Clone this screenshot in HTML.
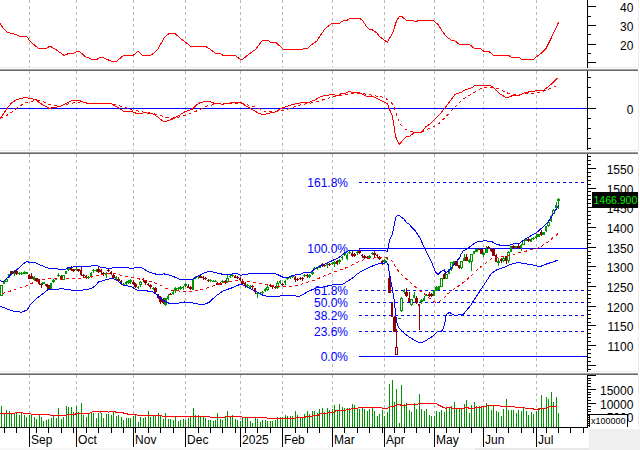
<!DOCTYPE html><html><head><meta charset="utf-8"><style>html,body{margin:0;padding:0;background:#fff}svg{display:block}</style></head><body><svg width="640" height="450" viewBox="0 0 640 450" shape-rendering="crispEdges" style="display:block;font-family:'Liberation Sans',sans-serif">
<rect x="0" y="0" width="640" height="450" fill="#fff"/>
<rect x="589" y="429" width="51" height="21" fill="#f0f0f0"/>
<rect x="0" y="448" width="475" height="2" fill="#f6f6f6"/>
<rect x="475" y="448" width="114" height="2" fill="#e8e8e8"/>
<line x1="29.5" y1="0" x2="29.5" y2="67" stroke="#b8b8b8" stroke-width="1" stroke-dasharray="3 3"/>
<line x1="76.5" y1="0" x2="76.5" y2="67" stroke="#b8b8b8" stroke-width="1" stroke-dasharray="3 3"/>
<line x1="133.5" y1="0" x2="133.5" y2="67" stroke="#b8b8b8" stroke-width="1" stroke-dasharray="3 3"/>
<line x1="185.5" y1="0" x2="185.5" y2="67" stroke="#b8b8b8" stroke-width="1" stroke-dasharray="3 3"/>
<line x1="240.5" y1="0" x2="240.5" y2="67" stroke="#b8b8b8" stroke-width="1" stroke-dasharray="3 3"/>
<line x1="282.5" y1="0" x2="282.5" y2="67" stroke="#b8b8b8" stroke-width="1" stroke-dasharray="3 3"/>
<line x1="332.5" y1="0" x2="332.5" y2="67" stroke="#b8b8b8" stroke-width="1" stroke-dasharray="3 3"/>
<line x1="384.5" y1="0" x2="384.5" y2="67" stroke="#b8b8b8" stroke-width="1" stroke-dasharray="3 3"/>
<line x1="434.5" y1="0" x2="434.5" y2="67" stroke="#b8b8b8" stroke-width="1" stroke-dasharray="3 3"/>
<line x1="483.5" y1="0" x2="483.5" y2="67" stroke="#b8b8b8" stroke-width="1" stroke-dasharray="3 3"/>
<line x1="536.5" y1="0" x2="536.5" y2="67" stroke="#b8b8b8" stroke-width="1" stroke-dasharray="3 3"/>
<line x1="29.5" y1="71" x2="29.5" y2="150" stroke="#b8b8b8" stroke-width="1" stroke-dasharray="3 3"/>
<line x1="76.5" y1="71" x2="76.5" y2="150" stroke="#b8b8b8" stroke-width="1" stroke-dasharray="3 3"/>
<line x1="133.5" y1="71" x2="133.5" y2="150" stroke="#b8b8b8" stroke-width="1" stroke-dasharray="3 3"/>
<line x1="185.5" y1="71" x2="185.5" y2="150" stroke="#b8b8b8" stroke-width="1" stroke-dasharray="3 3"/>
<line x1="240.5" y1="71" x2="240.5" y2="150" stroke="#b8b8b8" stroke-width="1" stroke-dasharray="3 3"/>
<line x1="282.5" y1="71" x2="282.5" y2="150" stroke="#b8b8b8" stroke-width="1" stroke-dasharray="3 3"/>
<line x1="332.5" y1="71" x2="332.5" y2="150" stroke="#b8b8b8" stroke-width="1" stroke-dasharray="3 3"/>
<line x1="384.5" y1="71" x2="384.5" y2="150" stroke="#b8b8b8" stroke-width="1" stroke-dasharray="3 3"/>
<line x1="434.5" y1="71" x2="434.5" y2="150" stroke="#b8b8b8" stroke-width="1" stroke-dasharray="3 3"/>
<line x1="483.5" y1="71" x2="483.5" y2="150" stroke="#b8b8b8" stroke-width="1" stroke-dasharray="3 3"/>
<line x1="536.5" y1="71" x2="536.5" y2="150" stroke="#b8b8b8" stroke-width="1" stroke-dasharray="3 3"/>
<line x1="29.5" y1="154" x2="29.5" y2="371" stroke="#b8b8b8" stroke-width="1" stroke-dasharray="3 3"/>
<line x1="76.5" y1="154" x2="76.5" y2="371" stroke="#b8b8b8" stroke-width="1" stroke-dasharray="3 3"/>
<line x1="133.5" y1="154" x2="133.5" y2="371" stroke="#b8b8b8" stroke-width="1" stroke-dasharray="3 3"/>
<line x1="185.5" y1="154" x2="185.5" y2="371" stroke="#b8b8b8" stroke-width="1" stroke-dasharray="3 3"/>
<line x1="240.5" y1="154" x2="240.5" y2="371" stroke="#b8b8b8" stroke-width="1" stroke-dasharray="3 3"/>
<line x1="282.5" y1="154" x2="282.5" y2="371" stroke="#b8b8b8" stroke-width="1" stroke-dasharray="3 3"/>
<line x1="332.5" y1="154" x2="332.5" y2="371" stroke="#b8b8b8" stroke-width="1" stroke-dasharray="3 3"/>
<line x1="384.5" y1="154" x2="384.5" y2="371" stroke="#b8b8b8" stroke-width="1" stroke-dasharray="3 3"/>
<line x1="434.5" y1="154" x2="434.5" y2="371" stroke="#b8b8b8" stroke-width="1" stroke-dasharray="3 3"/>
<line x1="483.5" y1="154" x2="483.5" y2="371" stroke="#b8b8b8" stroke-width="1" stroke-dasharray="3 3"/>
<line x1="536.5" y1="154" x2="536.5" y2="371" stroke="#b8b8b8" stroke-width="1" stroke-dasharray="3 3"/>
<line x1="29.5" y1="375" x2="29.5" y2="427" stroke="#b8b8b8" stroke-width="1" stroke-dasharray="3 3"/>
<line x1="76.5" y1="375" x2="76.5" y2="427" stroke="#b8b8b8" stroke-width="1" stroke-dasharray="3 3"/>
<line x1="133.5" y1="375" x2="133.5" y2="427" stroke="#b8b8b8" stroke-width="1" stroke-dasharray="3 3"/>
<line x1="185.5" y1="375" x2="185.5" y2="427" stroke="#b8b8b8" stroke-width="1" stroke-dasharray="3 3"/>
<line x1="240.5" y1="375" x2="240.5" y2="427" stroke="#b8b8b8" stroke-width="1" stroke-dasharray="3 3"/>
<line x1="282.5" y1="375" x2="282.5" y2="427" stroke="#b8b8b8" stroke-width="1" stroke-dasharray="3 3"/>
<line x1="332.5" y1="375" x2="332.5" y2="427" stroke="#b8b8b8" stroke-width="1" stroke-dasharray="3 3"/>
<line x1="384.5" y1="375" x2="384.5" y2="427" stroke="#b8b8b8" stroke-width="1" stroke-dasharray="3 3"/>
<line x1="434.5" y1="375" x2="434.5" y2="427" stroke="#b8b8b8" stroke-width="1" stroke-dasharray="3 3"/>
<line x1="483.5" y1="375" x2="483.5" y2="427" stroke="#b8b8b8" stroke-width="1" stroke-dasharray="3 3"/>
<line x1="536.5" y1="375" x2="536.5" y2="427" stroke="#b8b8b8" stroke-width="1" stroke-dasharray="3 3"/>
<rect x="0" y="67" width="639" height="1" fill="#ececec"/>
<rect x="0" y="69" width="638" height="1" fill="#a0a0a0"/>
<rect x="0" y="70" width="638" height="1" fill="#696969"/>
<rect x="0" y="150" width="639" height="1" fill="#ececec"/>
<rect x="0" y="152" width="638" height="1" fill="#a0a0a0"/>
<rect x="0" y="153" width="638" height="1" fill="#696969"/>
<rect x="0" y="371" width="639" height="1" fill="#ececec"/>
<rect x="0" y="373" width="638" height="1" fill="#a0a0a0"/>
<rect x="0" y="374" width="638" height="1" fill="#696969"/>
<rect x="638" y="0" width="1" height="68" fill="#ececec"/>
<rect x="638" y="71" width="1" height="80" fill="#ececec"/>
<rect x="638" y="154" width="1" height="218" fill="#ececec"/>
<rect x="638" y="375" width="1" height="53" fill="#ececec"/>
<rect x="587" y="0" width="1" height="68" fill="#000"/>
<rect x="587" y="71" width="1" height="79" fill="#000"/>
<rect x="587" y="154" width="1" height="218" fill="#000"/>
<rect x="587" y="376" width="1" height="52" fill="#000"/>
<rect x="587" y="6" width="9" height="1" fill="#000"/>
<text x="633.4" y="11.5" font-size="12" text-anchor="end" fill="#000">40</text>
<rect x="587" y="16" width="4" height="1" fill="#000"/>
<rect x="587" y="25" width="9" height="1" fill="#000"/>
<text x="633.4" y="30.5" font-size="12" text-anchor="end" fill="#000">30</text>
<rect x="587" y="34" width="4" height="1" fill="#000"/>
<rect x="587" y="44" width="9" height="1" fill="#000"/>
<text x="633.4" y="49.5" font-size="12" text-anchor="end" fill="#000">20</text>
<rect x="587" y="53" width="4" height="1" fill="#000"/>
<rect x="587" y="62" width="9" height="1" fill="#000"/>
<rect x="587" y="77" width="4" height="1" fill="#000"/>
<rect x="587" y="87" width="4" height="1" fill="#000"/>
<rect x="587" y="97" width="4" height="1" fill="#000"/>
<rect x="587" y="108" width="9" height="1" fill="#000"/>
<rect x="587" y="118" width="4" height="1" fill="#000"/>
<rect x="587" y="128" width="4" height="1" fill="#000"/>
<rect x="587" y="138" width="4" height="1" fill="#000"/>
<rect x="587" y="148" width="4" height="1" fill="#000"/>
<text x="633.4" y="113.5" font-size="12" text-anchor="end" fill="#000">0</text>
<rect x="587" y="369" width="4" height="1" fill="#000"/>
<rect x="587" y="365" width="9" height="1" fill="#000"/>
<rect x="587" y="361" width="4" height="1" fill="#000"/>
<rect x="587" y="357" width="4" height="1" fill="#000"/>
<rect x="587" y="353" width="4" height="1" fill="#000"/>
<rect x="587" y="349" width="4" height="1" fill="#000"/>
<rect x="587" y="345" width="9" height="1" fill="#000"/>
<text x="633.4" y="350.5" font-size="12" text-anchor="end" fill="#000">1100</text>
<rect x="587" y="341" width="4" height="1" fill="#000"/>
<rect x="587" y="337" width="4" height="1" fill="#000"/>
<rect x="587" y="333" width="4" height="1" fill="#000"/>
<rect x="587" y="329" width="4" height="1" fill="#000"/>
<rect x="587" y="325" width="9" height="1" fill="#000"/>
<text x="633.4" y="330.5" font-size="12" text-anchor="end" fill="#000">1150</text>
<rect x="587" y="322" width="4" height="1" fill="#000"/>
<rect x="587" y="318" width="4" height="1" fill="#000"/>
<rect x="587" y="314" width="4" height="1" fill="#000"/>
<rect x="587" y="310" width="4" height="1" fill="#000"/>
<rect x="587" y="306" width="9" height="1" fill="#000"/>
<text x="633.4" y="311.5" font-size="12" text-anchor="end" fill="#000">1200</text>
<rect x="587" y="302" width="4" height="1" fill="#000"/>
<rect x="587" y="298" width="4" height="1" fill="#000"/>
<rect x="587" y="294" width="4" height="1" fill="#000"/>
<rect x="587" y="290" width="4" height="1" fill="#000"/>
<rect x="587" y="286" width="9" height="1" fill="#000"/>
<text x="633.4" y="291.5" font-size="12" text-anchor="end" fill="#000">1250</text>
<rect x="587" y="282" width="4" height="1" fill="#000"/>
<rect x="587" y="278" width="4" height="1" fill="#000"/>
<rect x="587" y="274" width="4" height="1" fill="#000"/>
<rect x="587" y="270" width="4" height="1" fill="#000"/>
<rect x="587" y="266" width="9" height="1" fill="#000"/>
<text x="633.4" y="271.5" font-size="12" text-anchor="end" fill="#000">1300</text>
<rect x="587" y="262" width="4" height="1" fill="#000"/>
<rect x="587" y="258" width="4" height="1" fill="#000"/>
<rect x="587" y="255" width="4" height="1" fill="#000"/>
<rect x="587" y="251" width="4" height="1" fill="#000"/>
<rect x="587" y="247" width="9" height="1" fill="#000"/>
<text x="633.4" y="252.5" font-size="12" text-anchor="end" fill="#000">1350</text>
<rect x="587" y="243" width="4" height="1" fill="#000"/>
<rect x="587" y="239" width="4" height="1" fill="#000"/>
<rect x="587" y="235" width="4" height="1" fill="#000"/>
<rect x="587" y="231" width="4" height="1" fill="#000"/>
<rect x="587" y="227" width="9" height="1" fill="#000"/>
<text x="633.4" y="232.5" font-size="12" text-anchor="end" fill="#000">1400</text>
<rect x="587" y="223" width="4" height="1" fill="#000"/>
<rect x="587" y="219" width="4" height="1" fill="#000"/>
<rect x="587" y="215" width="4" height="1" fill="#000"/>
<rect x="587" y="211" width="4" height="1" fill="#000"/>
<rect x="587" y="207" width="9" height="1" fill="#000"/>
<text x="633.4" y="212.5" font-size="12" text-anchor="end" fill="#000">1450</text>
<rect x="587" y="203" width="4" height="1" fill="#000"/>
<rect x="587" y="199" width="4" height="1" fill="#000"/>
<rect x="587" y="195" width="4" height="1" fill="#000"/>
<rect x="587" y="191" width="4" height="1" fill="#000"/>
<rect x="587" y="188" width="9" height="1" fill="#000"/>
<text x="633.4" y="193.5" font-size="12" text-anchor="end" fill="#000">1500</text>
<rect x="587" y="184" width="4" height="1" fill="#000"/>
<rect x="587" y="180" width="4" height="1" fill="#000"/>
<rect x="587" y="176" width="4" height="1" fill="#000"/>
<rect x="587" y="172" width="4" height="1" fill="#000"/>
<rect x="587" y="168" width="9" height="1" fill="#000"/>
<text x="633.4" y="173.5" font-size="12" text-anchor="end" fill="#000">1550</text>
<rect x="587" y="164" width="4" height="1" fill="#000"/>
<rect x="587" y="160" width="4" height="1" fill="#000"/>
<rect x="587" y="156" width="4" height="1" fill="#000"/>
<rect x="587" y="425" width="4" height="1" fill="#000"/>
<rect x="587" y="423" width="4" height="1" fill="#000"/>
<rect x="587" y="420" width="4" height="1" fill="#000"/>
<rect x="587" y="417" width="9" height="1" fill="#000"/>
<text x="633.4" y="421.75" font-size="12" text-anchor="end" fill="#000">5000</text>
<rect x="587" y="414" width="4" height="1" fill="#000"/>
<rect x="587" y="411" width="4" height="1" fill="#000"/>
<rect x="587" y="409" width="4" height="1" fill="#000"/>
<rect x="587" y="406" width="4" height="1" fill="#000"/>
<rect x="587" y="403" width="9" height="1" fill="#000"/>
<text x="633.4" y="408.5" font-size="12" text-anchor="end" fill="#000">10000</text>
<rect x="587" y="400" width="4" height="1" fill="#000"/>
<rect x="587" y="397" width="4" height="1" fill="#000"/>
<rect x="587" y="394" width="4" height="1" fill="#000"/>
<rect x="587" y="392" width="4" height="1" fill="#000"/>
<rect x="587" y="389" width="9" height="1" fill="#000"/>
<text x="633.4" y="394.5" font-size="12" text-anchor="end" fill="#000">15000</text>
<rect x="587" y="386" width="4" height="1" fill="#000"/>
<rect x="587" y="383" width="4" height="1" fill="#000"/>
<rect x="587" y="380" width="4" height="1" fill="#000"/>
<rect x="587" y="378" width="4" height="1" fill="#000"/>
<rect x="587" y="375" width="9" height="1" fill="#000"/>
<rect x="588" y="414" width="40" height="14" fill="#fff"/>
<rect x="588" y="414" width="40" height="1" fill="#000"/>
<rect x="627" y="414" width="1" height="13" fill="#000"/>
<rect x="589" y="415" width="1" height="12" fill="#000"/>
<text x="591" y="424" font-size="9" fill="#000">x100000</text>
<rect x="588" y="415" width="1" height="1" fill="#000"/>
<rect x="588" y="417" width="1" height="1" fill="#000"/>
<rect x="588" y="419" width="1" height="1" fill="#000"/>
<rect x="588" y="421" width="1" height="1" fill="#000"/>
<rect x="588" y="423" width="1" height="1" fill="#000"/>
<rect x="588" y="425" width="1" height="1" fill="#000"/>
<rect x="592" y="192" width="46" height="16" fill="#000"/>
<text x="637.3" y="204" font-size="10.5" text-anchor="end" fill="#00f000">1466.900</text>
<rect x="0" y="427" width="588" height="1" fill="#000"/>
<rect x="29" y="427" width="1" height="20" fill="#000"/>
<text x="31.1" y="444" font-size="12" fill="#000">Sep</text>
<rect x="76" y="427" width="1" height="20" fill="#000"/>
<text x="78.1" y="444" font-size="12" fill="#000">Oct</text>
<rect x="133" y="427" width="1" height="20" fill="#000"/>
<text x="135.1" y="444" font-size="12" fill="#000">Nov</text>
<rect x="185" y="427" width="1" height="20" fill="#000"/>
<text x="187.1" y="444" font-size="12" fill="#000">Dec</text>
<rect x="240" y="427" width="1" height="20" fill="#000"/>
<text x="242.1" y="444" font-size="12" fill="#000">2025</text>
<rect x="282" y="427" width="1" height="20" fill="#000"/>
<text x="284.1" y="444" font-size="12" fill="#000">Feb</text>
<rect x="332" y="427" width="1" height="20" fill="#000"/>
<text x="334.1" y="444" font-size="12" fill="#000">Mar</text>
<rect x="384" y="427" width="1" height="20" fill="#000"/>
<text x="386.1" y="444" font-size="12" fill="#000">Apr</text>
<rect x="434" y="427" width="1" height="20" fill="#000"/>
<text x="436.1" y="444" font-size="12" fill="#000">May</text>
<rect x="483" y="427" width="1" height="20" fill="#000"/>
<text x="485.1" y="444" font-size="12" fill="#000">Jun</text>
<rect x="536" y="427" width="1" height="20" fill="#000"/>
<text x="538.1" y="444" font-size="12" fill="#000">Jul</text>
<rect x="4" y="427" width="1" height="6" fill="#000"/>
<rect x="16" y="427" width="1" height="6" fill="#000"/>
<rect x="36" y="427" width="1" height="6" fill="#000"/>
<rect x="48" y="427" width="1" height="6" fill="#000"/>
<rect x="61" y="427" width="1" height="6" fill="#000"/>
<rect x="73" y="427" width="1" height="6" fill="#000"/>
<rect x="86" y="427" width="1" height="6" fill="#000"/>
<rect x="98" y="427" width="1" height="6" fill="#000"/>
<rect x="111" y="427" width="1" height="6" fill="#000"/>
<rect x="123" y="427" width="1" height="6" fill="#000"/>
<rect x="135" y="427" width="1" height="6" fill="#000"/>
<rect x="148" y="427" width="1" height="6" fill="#000"/>
<rect x="160" y="427" width="1" height="6" fill="#000"/>
<rect x="173" y="427" width="1" height="6" fill="#000"/>
<rect x="185" y="427" width="1" height="6" fill="#000"/>
<rect x="198" y="427" width="1" height="6" fill="#000"/>
<rect x="210" y="427" width="1" height="6" fill="#000"/>
<rect x="222" y="427" width="1" height="6" fill="#000"/>
<rect x="235" y="427" width="1" height="6" fill="#000"/>
<rect x="245" y="427" width="1" height="6" fill="#000"/>
<rect x="257" y="427" width="1" height="6" fill="#000"/>
<rect x="270" y="427" width="1" height="6" fill="#000"/>
<rect x="295" y="427" width="1" height="6" fill="#000"/>
<rect x="307" y="427" width="1" height="6" fill="#000"/>
<rect x="319" y="427" width="1" height="6" fill="#000"/>
<rect x="332" y="427" width="1" height="6" fill="#000"/>
<rect x="344" y="427" width="1" height="6" fill="#000"/>
<rect x="357" y="427" width="1" height="6" fill="#000"/>
<rect x="369" y="427" width="1" height="6" fill="#000"/>
<rect x="382" y="427" width="1" height="6" fill="#000"/>
<rect x="394" y="427" width="1" height="6" fill="#000"/>
<rect x="404" y="427" width="1" height="6" fill="#000"/>
<rect x="416" y="427" width="1" height="6" fill="#000"/>
<rect x="429" y="427" width="1" height="6" fill="#000"/>
<rect x="446" y="427" width="1" height="6" fill="#000"/>
<rect x="459" y="427" width="1" height="6" fill="#000"/>
<rect x="471" y="427" width="1" height="6" fill="#000"/>
<rect x="483" y="427" width="1" height="6" fill="#000"/>
<rect x="496" y="427" width="1" height="6" fill="#000"/>
<rect x="508" y="427" width="1" height="6" fill="#000"/>
<rect x="521" y="427" width="1" height="6" fill="#000"/>
<rect x="533" y="427" width="1" height="6" fill="#000"/>
<rect x="546" y="427" width="1" height="6" fill="#000"/>
<rect x="558" y="427" width="1" height="6" fill="#000"/>
<rect x="570" y="427" width="1" height="6" fill="#000"/>
<rect x="583" y="427" width="1" height="6" fill="#000"/>
<line x1="359" y1="182.5" x2="587" y2="182.5" stroke="#0000ff" stroke-width="1" stroke-dasharray="3 3"/>
<text x="348" y="186.5" font-size="12" text-anchor="end" fill="#0000ff">161.8%</text>
<rect x="359" y="248" width="228" height="1" fill="#0000ff"/>
<text x="348" y="252.5" font-size="12" text-anchor="end" fill="#0000ff">100.0%</text>
<line x1="359" y1="290.5" x2="587" y2="290.5" stroke="#0000ff" stroke-width="1" stroke-dasharray="3 3"/>
<text x="348" y="294.5" font-size="12" text-anchor="end" fill="#0000ff">61.8%</text>
<line x1="359" y1="302.5" x2="587" y2="302.5" stroke="#0000ff" stroke-width="1" stroke-dasharray="3 3"/>
<text x="348" y="306.5" font-size="12" text-anchor="end" fill="#0000ff">50.0%</text>
<line x1="359" y1="315.5" x2="587" y2="315.5" stroke="#0000ff" stroke-width="1" stroke-dasharray="3 3"/>
<text x="348" y="319.5" font-size="12" text-anchor="end" fill="#0000ff">38.2%</text>
<line x1="359" y1="331.5" x2="587" y2="331.5" stroke="#0000ff" stroke-width="1" stroke-dasharray="3 3"/>
<text x="348" y="335.5" font-size="12" text-anchor="end" fill="#0000ff">23.6%</text>
<rect x="359" y="356" width="228" height="1" fill="#0000ff"/>
<text x="348" y="360.5" font-size="12" text-anchor="end" fill="#0000ff">0.0%</text>
<polyline points="0.0,23.4 3.1,28.1 7.8,32.5 15.6,34.4 19.5,36.2 26.6,36.2 29.7,40.9 38.3,48.4 46.1,48.4 50.0,46.1 56.2,49.7 64.1,55.5 68.8,53.4 73.4,53.4 77.3,51.2 80.5,52.3 85.2,56.6 92.2,59.4 96.9,59.4 100.0,57.0 103.1,57.5 107.0,59.4 111.7,61.4 116.4,61.4 123.4,55.5 133.1,55.5 138.0,51.2 142.5,55.2 150.8,55.2 153.9,53.1 157.8,49.2 164.8,37.0 169.5,33.3 174.7,33.3 181.2,39.1 185.2,41.9 190.6,46.4 200.0,46.4 205.5,46.4 209.4,48.8 215.6,53.4 220.3,53.4 223.0,55.3 235.2,55.3 240.3,59.4 243.0,59.1 248.4,54.4 255.5,49.5 262.5,40.3 267.5,40.3 270.6,42.2 275.5,42.2 283.6,49.4 300.0,49.4 302.3,49.4 303.9,48.4 307.5,48.4 310.9,45.3 316.9,40.9 320.3,35.6 325.0,28.9 331.2,23.8 339.1,23.4 343.8,20.3 346.9,20.3 350.0,18.4 359.4,18.4 362.5,20.3 366.4,26.6 369.5,29.2 372.2,29.7 376.6,32.8 379.7,36.7 384.4,40.3 387.2,42.2 390.6,36.7 393.4,31.2 395.6,23.4 397.7,18.8 400.0,16.1 402.3,16.9 406.2,20.3 412.5,20.3 414.1,21.2 417.2,21.2 418.8,20.3 432.8,20.3 438.3,24.7 442.2,31.2 446.6,36.9 451.6,40.3 454.7,40.6 459.4,44.4 469.5,44.4 474.2,48.4 480.5,48.4 483.6,51.2 489.1,51.6 493.8,55.5 500.0,55.5 508.6,55.5 511.7,57.3 518.8,57.3 521.6,59.4 533.6,59.4 536.7,56.6 541.4,53.1 546.1,48.4 550.0,40.6 554.7,30.5 558.6,22.3" fill="none" stroke="#ff0000" stroke-width="1" />
<rect x="0" y="108" width="587" height="1" fill="#0000ff"/>
<polyline points="0.0,118.3 2.3,115.5 7.0,108.5 11.7,102.7 15.6,100.3 21.1,98.3 26.6,97.5 31.2,98.8 35.9,99.4 39.1,102.7 45.3,106.1 49.2,108.5 52.3,107.7 59.4,106.6 65.6,103.8 72.7,100.3 78.9,100.3 84.4,102.5 89.1,104.1 92.2,103.0 100.0,103.0 103.1,103.8 106.2,103.0 110.2,103.0 114.8,105.8 119.5,108.5 123.4,111.1 131.2,111.1 137.5,113.9 145.3,112.7 153.1,113.9 157.8,117.1 163.3,121.3 166.4,121.3 171.9,119.4 178.1,116.0 185.2,111.6 192.2,109.2 196.1,105.3 200.0,102.7 203.1,101.9 210.9,101.9 214.1,103.3 218.8,103.3 221.9,104.2 226.6,103.8 232.8,102.2 241.4,103.0 246.9,106.6 253.1,110.0 259.4,113.6 263.3,114.7 268.8,113.2 275.0,112.1 281.2,108.5 287.5,106.1 293.8,104.2 300.0,103.0 309.4,102.2 315.6,99.6 321.1,96.4 327.3,95.2 333.6,94.4 336.7,96.0 341.4,93.6 345.3,93.2 349.2,91.6 353.9,92.8 358.6,92.5 362.5,94.1 366.4,96.3 372.7,96.3 379.7,99.9 380.0,100.3 384.7,102.2 387.8,104.2 389.4,109.2 392.5,116.3 395.6,136.6 399.2,144.4 402.7,140.5 406.6,136.6 409.7,136.1 414.4,132.4 421.4,132.4 426.1,126.4 430.0,124.1 434.7,119.4 440.2,113.9 445.6,106.9 450.3,100.7 455.0,94.4 461.2,92.4 465.9,89.2 469.8,88.9 475.3,85.3 480.0,85.3 489.5,85.3 493.4,87.6 499.7,93.9 505.2,97.0 509.1,97.0 513.0,95.4 520.0,95.1 524.7,92.8 530.9,91.5 537.2,90.8 543.4,90.4 548.1,86.8 552.8,82.9 557.5,77.8" fill="none" stroke="#ff0000" stroke-width="1" />
<polyline points="0.0,118.6 7.0,115.5 13.3,110.8 19.5,106.1 25.8,102.5 31.2,101.4 37.5,100.3 43.8,101.8 49.2,104.6 55.5,105.8 60.9,106.1 67.2,104.2 73.4,103.0 80.5,101.9 85.9,102.5 90.6,103.5 100.0,103.3 106.2,103.0 114.8,104.2 121.1,106.4 127.3,108.0 133.6,110.5 139.1,111.1 145.3,112.4 151.6,113.2 157.0,114.4 163.3,116.3 169.5,118.3 175.8,117.8 181.2,116.6 186.7,114.7 193.0,112.4 199.2,110.0 205.5,106.4 210.9,105.3 216.4,103.8 221.9,103.5 231.2,103.0 240.6,103.0 246.9,104.6 253.1,106.4 259.4,108.9 264.8,111.3 271.1,111.6 277.3,111.1 282.8,110.3 289.1,108.8 295.3,106.6 300.0,104.9 306.2,103.8 312.5,102.7 318.8,101.4 325.0,99.1 331.2,97.5 337.5,95.7 343.8,94.9 350.0,93.9 356.2,93.2 362.5,93.6 367.2,94.4 373.4,95.5 379.7,96.8 380.0,96.4 385.5,98.3 391.7,103.0 394.8,109.2 397.2,117.1 401.1,124.9 405.8,129.6 410.5,131.6 415.9,132.4 421.4,131.9 426.9,129.6 433.9,126.8 439.4,123.3 445.6,117.1 451.1,110.8 456.6,105.3 462.0,99.9 468.3,96.0 474.5,92.1 480.0,88.9 485.6,87.2 491.9,87.2 498.1,88.7 503.6,91.5 509.8,93.9 516.1,94.7 521.6,94.3 527.8,93.1 534.1,93.1 540.3,92.0 546.6,90.4 552.0,87.6 557.5,85.3" fill="none" stroke="#ff0000" stroke-width="1" stroke-dasharray="3 3"/>
<rect x="1" y="285" width="1" height="11" fill="#009600"/>
<rect x="0" y="285" width="3" height="11" fill="#009600"/>
<rect x="1" y="286" width="1" height="9" fill="#fff"/>
<rect x="4" y="281" width="1" height="3" fill="#009600"/>
<rect x="3" y="281" width="2" height="3" fill="#009600"/>
<rect x="6" y="278" width="1" height="4" fill="#009600"/>
<rect x="5" y="279" width="3" height="3" fill="#009600"/>
<rect x="6" y="280" width="1" height="1" fill="#fff"/>
<rect x="9" y="274" width="1" height="4" fill="#009600"/>
<rect x="8" y="274" width="2" height="4" fill="#009600"/>
<rect x="11" y="271" width="1" height="3" fill="#900000"/>
<rect x="10" y="271" width="3" height="3" fill="#900000"/>
<rect x="14" y="270" width="1" height="6" fill="#009600"/>
<rect x="13" y="271" width="2" height="3" fill="#009600"/>
<rect x="16" y="270" width="1" height="5" fill="#900000"/>
<rect x="15" y="271" width="3" height="3" fill="#900000"/>
<rect x="19" y="272" width="1" height="3" fill="#009600"/>
<rect x="18" y="273" width="2" height="1" fill="#009600"/>
<rect x="21" y="272" width="1" height="3" fill="#009600"/>
<rect x="20" y="273" width="3" height="1" fill="#009600"/>
<rect x="24" y="271" width="1" height="3" fill="#009600"/>
<rect x="23" y="272" width="2" height="2" fill="#009600"/>
<rect x="26" y="272" width="1" height="2" fill="#009600"/>
<rect x="25" y="272" width="3" height="2" fill="#009600"/>
<rect x="29" y="274" width="1" height="5" fill="#900000"/>
<rect x="28" y="275" width="2" height="4" fill="#900000"/>
<rect x="31" y="273" width="1" height="6" fill="#900000"/>
<rect x="30" y="276" width="3" height="3" fill="#900000"/>
<rect x="34" y="276" width="1" height="5" fill="#009600"/>
<rect x="33" y="277" width="2" height="3" fill="#009600"/>
<rect x="36" y="278" width="1" height="3" fill="#900000"/>
<rect x="35" y="278" width="3" height="3" fill="#900000"/>
<rect x="39" y="279" width="1" height="6" fill="#900000"/>
<rect x="38" y="279" width="2" height="5" fill="#900000"/>
<rect x="41" y="283" width="1" height="5" fill="#900000"/>
<rect x="40" y="284" width="3" height="1" fill="#900000"/>
<rect x="43" y="282" width="1" height="2" fill="#009600"/>
<rect x="42" y="282" width="3" height="2" fill="#009600"/>
<rect x="46" y="284" width="1" height="3" fill="#900000"/>
<rect x="45" y="284" width="3" height="2" fill="#900000"/>
<rect x="48" y="285" width="1" height="5" fill="#900000"/>
<rect x="47" y="285" width="3" height="4" fill="#900000"/>
<rect x="51" y="283" width="1" height="7" fill="#009600"/>
<rect x="50" y="283" width="2" height="6" fill="#009600"/>
<rect x="53" y="279" width="1" height="4" fill="#009600"/>
<rect x="52" y="280" width="3" height="2" fill="#009600"/>
<rect x="56" y="278" width="1" height="2" fill="#009600"/>
<rect x="55" y="278" width="2" height="2" fill="#009600"/>
<rect x="58" y="273" width="1" height="4" fill="#009600"/>
<rect x="57" y="275" width="3" height="1" fill="#009600"/>
<rect x="61" y="275" width="1" height="4" fill="#900000"/>
<rect x="60" y="276" width="2" height="3" fill="#900000"/>
<rect x="63" y="275" width="1" height="5" fill="#009600"/>
<rect x="62" y="275" width="3" height="5" fill="#009600"/>
<rect x="63" y="276" width="1" height="3" fill="#fff"/>
<rect x="66" y="271" width="1" height="3" fill="#009600"/>
<rect x="65" y="271" width="2" height="3" fill="#009600"/>
<rect x="68" y="268" width="1" height="3" fill="#009600"/>
<rect x="67" y="268" width="3" height="2" fill="#009600"/>
<rect x="71" y="266" width="1" height="5" fill="#900000"/>
<rect x="70" y="268" width="2" height="2" fill="#900000"/>
<rect x="73" y="269" width="1" height="3" fill="#900000"/>
<rect x="72" y="269" width="3" height="2" fill="#900000"/>
<rect x="76" y="267" width="1" height="4" fill="#009600"/>
<rect x="75" y="269" width="2" height="1" fill="#009600"/>
<rect x="78" y="269" width="1" height="3" fill="#900000"/>
<rect x="77" y="269" width="3" height="2" fill="#900000"/>
<rect x="81" y="266" width="1" height="10" fill="#900000"/>
<rect x="80" y="270" width="2" height="5" fill="#900000"/>
<rect x="83" y="274" width="1" height="4" fill="#900000"/>
<rect x="82" y="275" width="3" height="1" fill="#900000"/>
<rect x="86" y="275" width="1" height="4" fill="#900000"/>
<rect x="85" y="276" width="2" height="2" fill="#900000"/>
<rect x="88" y="276" width="1" height="3" fill="#009600"/>
<rect x="87" y="277" width="3" height="1" fill="#009600"/>
<rect x="91" y="272" width="1" height="6" fill="#009600"/>
<rect x="90" y="273" width="2" height="3" fill="#009600"/>
<rect x="93" y="269" width="1" height="4" fill="#009600"/>
<rect x="92" y="270" width="3" height="1" fill="#009600"/>
<rect x="96" y="269" width="1" height="3" fill="#009600"/>
<rect x="95" y="270" width="2" height="1" fill="#009600"/>
<rect x="98" y="267" width="1" height="6" fill="#900000"/>
<rect x="97" y="269" width="3" height="3" fill="#900000"/>
<rect x="101" y="269" width="1" height="5" fill="#900000"/>
<rect x="100" y="270" width="2" height="2" fill="#900000"/>
<rect x="103" y="272" width="1" height="4" fill="#900000"/>
<rect x="102" y="273" width="3" height="1" fill="#900000"/>
<rect x="106" y="272" width="1" height="6" fill="#009600"/>
<rect x="105" y="273" width="2" height="2" fill="#009600"/>
<rect x="108" y="269" width="1" height="3" fill="#900000"/>
<rect x="107" y="270" width="3" height="1" fill="#900000"/>
<rect x="111" y="271" width="1" height="4" fill="#900000"/>
<rect x="110" y="272" width="2" height="2" fill="#900000"/>
<rect x="113" y="273" width="1" height="6" fill="#900000"/>
<rect x="112" y="275" width="3" height="3" fill="#900000"/>
<rect x="116" y="276" width="1" height="4" fill="#009600"/>
<rect x="115" y="277" width="2" height="2" fill="#009600"/>
<rect x="118" y="277" width="1" height="5" fill="#900000"/>
<rect x="117" y="279" width="3" height="2" fill="#900000"/>
<rect x="121" y="280" width="1" height="5" fill="#900000"/>
<rect x="120" y="281" width="2" height="2" fill="#900000"/>
<rect x="123" y="283" width="1" height="3" fill="#009600"/>
<rect x="122" y="284" width="3" height="1" fill="#009600"/>
<rect x="126" y="281" width="1" height="4" fill="#009600"/>
<rect x="125" y="282" width="2" height="2" fill="#009600"/>
<rect x="128" y="280" width="1" height="4" fill="#009600"/>
<rect x="127" y="281" width="3" height="2" fill="#009600"/>
<rect x="130" y="279" width="1" height="5" fill="#009600"/>
<rect x="129" y="280" width="3" height="2" fill="#009600"/>
<rect x="133" y="280" width="1" height="5" fill="#900000"/>
<rect x="132" y="282" width="3" height="2" fill="#900000"/>
<rect x="135" y="283" width="1" height="5" fill="#900000"/>
<rect x="134" y="284" width="3" height="3" fill="#900000"/>
<rect x="138" y="286" width="1" height="3" fill="#009600"/>
<rect x="137" y="287" width="2" height="1" fill="#009600"/>
<rect x="140" y="281" width="1" height="6" fill="#009600"/>
<rect x="139" y="282" width="3" height="3" fill="#009600"/>
<rect x="140" y="283" width="1" height="1" fill="#fff"/>
<rect x="143" y="278" width="1" height="4" fill="#900000"/>
<rect x="142" y="279" width="2" height="1" fill="#900000"/>
<rect x="145" y="280" width="1" height="5" fill="#900000"/>
<rect x="144" y="280" width="3" height="3" fill="#900000"/>
<rect x="148" y="283" width="1" height="3" fill="#900000"/>
<rect x="147" y="284" width="2" height="1" fill="#900000"/>
<rect x="150" y="284" width="1" height="5" fill="#900000"/>
<rect x="149" y="285" width="3" height="2" fill="#900000"/>
<rect x="153" y="287" width="1" height="3" fill="#009600"/>
<rect x="152" y="288" width="2" height="1" fill="#009600"/>
<rect x="155" y="287" width="1" height="7" fill="#900000"/>
<rect x="154" y="288" width="3" height="4" fill="#900000"/>
<rect x="158" y="294" width="1" height="5" fill="#900000"/>
<rect x="157" y="296" width="2" height="2" fill="#900000"/>
<rect x="160" y="296" width="1" height="8" fill="#900000"/>
<rect x="159" y="297" width="3" height="5" fill="#900000"/>
<rect x="163" y="298" width="1" height="6" fill="#900000"/>
<rect x="162" y="299" width="2" height="4" fill="#900000"/>
<rect x="165" y="298" width="1" height="8" fill="#009600"/>
<rect x="164" y="298" width="3" height="7" fill="#009600"/>
<rect x="168" y="294" width="1" height="6" fill="#009600"/>
<rect x="167" y="296" width="2" height="3" fill="#009600"/>
<rect x="170" y="293" width="1" height="2" fill="#900000"/>
<rect x="169" y="294" width="3" height="1" fill="#900000"/>
<rect x="173" y="290" width="1" height="5" fill="#009600"/>
<rect x="172" y="292" width="2" height="2" fill="#009600"/>
<rect x="175" y="287" width="1" height="6" fill="#009600"/>
<rect x="174" y="288" width="3" height="3" fill="#009600"/>
<rect x="178" y="287" width="1" height="4" fill="#009600"/>
<rect x="177" y="288" width="2" height="1" fill="#009600"/>
<rect x="180" y="286" width="1" height="4" fill="#009600"/>
<rect x="179" y="287" width="3" height="2" fill="#009600"/>
<rect x="183" y="286" width="1" height="4" fill="#009600"/>
<rect x="182" y="287" width="2" height="1" fill="#009600"/>
<rect x="185" y="283" width="1" height="4" fill="#009600"/>
<rect x="184" y="284" width="3" height="2" fill="#009600"/>
<rect x="188" y="284" width="1" height="4" fill="#900000"/>
<rect x="187" y="286" width="2" height="2" fill="#900000"/>
<rect x="190" y="286" width="1" height="4" fill="#900000"/>
<rect x="189" y="287" width="3" height="2" fill="#900000"/>
<rect x="193" y="279" width="1" height="11" fill="#009600"/>
<rect x="192" y="280" width="2" height="10" fill="#009600"/>
<rect x="195" y="276" width="1" height="3" fill="#009600"/>
<rect x="194" y="277" width="3" height="1" fill="#009600"/>
<rect x="198" y="275" width="1" height="4" fill="#009600"/>
<rect x="197" y="276" width="2" height="1" fill="#009600"/>
<rect x="200" y="275" width="1" height="3" fill="#900000"/>
<rect x="199" y="276" width="3" height="2" fill="#900000"/>
<rect x="203" y="276" width="1" height="4" fill="#900000"/>
<rect x="202" y="277" width="2" height="1" fill="#900000"/>
<rect x="205" y="277" width="1" height="3" fill="#900000"/>
<rect x="204" y="278" width="3" height="1" fill="#900000"/>
<rect x="208" y="279" width="1" height="3" fill="#900000"/>
<rect x="207" y="280" width="2" height="1" fill="#900000"/>
<rect x="210" y="279" width="1" height="3" fill="#009600"/>
<rect x="209" y="280" width="3" height="1" fill="#009600"/>
<rect x="213" y="280" width="1" height="2" fill="#009600"/>
<rect x="212" y="281" width="2" height="1" fill="#009600"/>
<rect x="215" y="280" width="1" height="2" fill="#009600"/>
<rect x="214" y="281" width="3" height="1" fill="#009600"/>
<rect x="217" y="282" width="1" height="3" fill="#900000"/>
<rect x="216" y="283" width="3" height="2" fill="#900000"/>
<rect x="220" y="282" width="1" height="3" fill="#900000"/>
<rect x="219" y="283" width="3" height="2" fill="#900000"/>
<rect x="222" y="280" width="1" height="3" fill="#009600"/>
<rect x="221" y="281" width="3" height="1" fill="#009600"/>
<rect x="225" y="280" width="1" height="4" fill="#900000"/>
<rect x="224" y="281" width="3" height="2" fill="#900000"/>
<rect x="227" y="274" width="1" height="9" fill="#009600"/>
<rect x="226" y="278" width="3" height="4" fill="#009600"/>
<rect x="227" y="279" width="1" height="2" fill="#fff"/>
<rect x="230" y="275" width="1" height="3" fill="#009600"/>
<rect x="229" y="276" width="2" height="1" fill="#009600"/>
<rect x="232" y="274" width="1" height="3" fill="#009600"/>
<rect x="231" y="275" width="3" height="1" fill="#009600"/>
<rect x="235" y="275" width="1" height="3" fill="#900000"/>
<rect x="234" y="276" width="2" height="2" fill="#900000"/>
<rect x="237" y="276" width="1" height="3" fill="#900000"/>
<rect x="236" y="277" width="3" height="1" fill="#900000"/>
<rect x="240" y="277" width="1" height="4" fill="#900000"/>
<rect x="239" y="278" width="2" height="2" fill="#900000"/>
<rect x="242" y="279" width="1" height="6" fill="#900000"/>
<rect x="241" y="281" width="3" height="3" fill="#900000"/>
<rect x="245" y="282" width="1" height="6" fill="#900000"/>
<rect x="244" y="283" width="2" height="3" fill="#900000"/>
<rect x="247" y="284" width="1" height="4" fill="#009600"/>
<rect x="246" y="285" width="3" height="1" fill="#009600"/>
<rect x="250" y="285" width="1" height="4" fill="#009600"/>
<rect x="249" y="286" width="2" height="2" fill="#009600"/>
<rect x="252" y="285" width="1" height="4" fill="#900000"/>
<rect x="251" y="286" width="3" height="1" fill="#900000"/>
<rect x="255" y="288" width="1" height="6" fill="#900000"/>
<rect x="254" y="288" width="2" height="4" fill="#900000"/>
<rect x="257" y="292" width="1" height="6" fill="#009600"/>
<rect x="256" y="293" width="3" height="1" fill="#009600"/>
<rect x="260" y="292" width="1" height="3" fill="#009600"/>
<rect x="259" y="293" width="2" height="1" fill="#009600"/>
<rect x="262" y="291" width="1" height="4" fill="#009600"/>
<rect x="261" y="292" width="3" height="1" fill="#009600"/>
<rect x="265" y="288" width="1" height="4" fill="#009600"/>
<rect x="264" y="289" width="2" height="2" fill="#009600"/>
<rect x="267" y="285" width="1" height="6" fill="#009600"/>
<rect x="266" y="287" width="3" height="3" fill="#009600"/>
<rect x="267" y="288" width="1" height="1" fill="#fff"/>
<rect x="270" y="284" width="1" height="3" fill="#900000"/>
<rect x="269" y="285" width="2" height="1" fill="#900000"/>
<rect x="272" y="285" width="1" height="4" fill="#900000"/>
<rect x="271" y="286" width="3" height="1" fill="#900000"/>
<rect x="275" y="286" width="1" height="3" fill="#900000"/>
<rect x="274" y="287" width="2" height="1" fill="#900000"/>
<rect x="277" y="281" width="1" height="8" fill="#009600"/>
<rect x="276" y="283" width="3" height="5" fill="#009600"/>
<rect x="277" y="284" width="1" height="3" fill="#fff"/>
<rect x="280" y="280" width="1" height="4" fill="#009600"/>
<rect x="279" y="281" width="2" height="2" fill="#009600"/>
<rect x="282" y="283" width="1" height="3" fill="#900000"/>
<rect x="281" y="284" width="3" height="1" fill="#900000"/>
<rect x="285" y="280" width="1" height="5" fill="#009600"/>
<rect x="284" y="281" width="2" height="2" fill="#009600"/>
<rect x="287" y="277" width="1" height="3" fill="#009600"/>
<rect x="286" y="278" width="3" height="1" fill="#009600"/>
<rect x="290" y="276" width="1" height="3" fill="#009600"/>
<rect x="289" y="277" width="2" height="1" fill="#009600"/>
<rect x="292" y="275" width="1" height="3" fill="#009600"/>
<rect x="291" y="276" width="3" height="1" fill="#009600"/>
<rect x="295" y="276" width="1" height="6" fill="#900000"/>
<rect x="294" y="277" width="2" height="3" fill="#900000"/>
<rect x="297" y="278" width="1" height="3" fill="#900000"/>
<rect x="296" y="279" width="3" height="1" fill="#900000"/>
<rect x="300" y="277" width="1" height="3" fill="#900000"/>
<rect x="299" y="278" width="2" height="1" fill="#900000"/>
<rect x="302" y="277" width="1" height="4" fill="#900000"/>
<rect x="301" y="278" width="3" height="1" fill="#900000"/>
<rect x="304" y="274" width="1" height="3" fill="#009600"/>
<rect x="303" y="275" width="3" height="1" fill="#009600"/>
<rect x="307" y="274" width="1" height="4" fill="#900000"/>
<rect x="306" y="275" width="3" height="1" fill="#900000"/>
<rect x="309" y="274" width="1" height="4" fill="#009600"/>
<rect x="308" y="275" width="3" height="2" fill="#009600"/>
<rect x="312" y="270" width="1" height="5" fill="#009600"/>
<rect x="311" y="272" width="3" height="2" fill="#009600"/>
<rect x="314" y="267" width="1" height="3" fill="#009600"/>
<rect x="313" y="268" width="3" height="1" fill="#009600"/>
<rect x="317" y="267" width="1" height="3" fill="#009600"/>
<rect x="316" y="268" width="2" height="1" fill="#009600"/>
<rect x="319" y="265" width="1" height="3" fill="#009600"/>
<rect x="318" y="266" width="3" height="2" fill="#009600"/>
<rect x="322" y="263" width="1" height="4" fill="#900000"/>
<rect x="321" y="264" width="2" height="1" fill="#900000"/>
<rect x="324" y="264" width="1" height="3" fill="#900000"/>
<rect x="323" y="265" width="3" height="1" fill="#900000"/>
<rect x="327" y="263" width="1" height="5" fill="#009600"/>
<rect x="326" y="264" width="2" height="1" fill="#009600"/>
<rect x="329" y="263" width="1" height="3" fill="#900000"/>
<rect x="328" y="264" width="3" height="1" fill="#900000"/>
<rect x="332" y="262" width="1" height="3" fill="#009600"/>
<rect x="331" y="263" width="2" height="1" fill="#009600"/>
<rect x="334" y="261" width="1" height="6" fill="#009600"/>
<rect x="333" y="262" width="3" height="2" fill="#009600"/>
<rect x="337" y="260" width="1" height="5" fill="#900000"/>
<rect x="336" y="261" width="2" height="3" fill="#900000"/>
<rect x="339" y="259" width="1" height="5" fill="#009600"/>
<rect x="338" y="260" width="3" height="2" fill="#009600"/>
<rect x="342" y="256" width="1" height="4" fill="#009600"/>
<rect x="341" y="257" width="2" height="1" fill="#009600"/>
<rect x="344" y="252" width="1" height="4" fill="#009600"/>
<rect x="343" y="253" width="3" height="2" fill="#009600"/>
<rect x="347" y="253" width="1" height="7" fill="#009600"/>
<rect x="346" y="255" width="2" height="4" fill="#009600"/>
<rect x="349" y="251" width="1" height="3" fill="#009600"/>
<rect x="348" y="252" width="3" height="1" fill="#009600"/>
<rect x="352" y="251" width="1" height="6" fill="#900000"/>
<rect x="351" y="253" width="2" height="3" fill="#900000"/>
<rect x="354" y="253" width="1" height="4" fill="#900000"/>
<rect x="353" y="254" width="3" height="2" fill="#900000"/>
<rect x="357" y="251" width="1" height="4" fill="#009600"/>
<rect x="356" y="252" width="2" height="1" fill="#009600"/>
<rect x="359" y="249" width="1" height="5" fill="#900000"/>
<rect x="358" y="251" width="3" height="2" fill="#900000"/>
<rect x="362" y="254" width="1" height="4" fill="#900000"/>
<rect x="361" y="255" width="2" height="1" fill="#900000"/>
<rect x="364" y="255" width="1" height="4" fill="#900000"/>
<rect x="363" y="256" width="3" height="2" fill="#900000"/>
<rect x="367" y="256" width="1" height="3" fill="#900000"/>
<rect x="366" y="257" width="2" height="1" fill="#900000"/>
<rect x="369" y="255" width="1" height="4" fill="#009600"/>
<rect x="368" y="256" width="3" height="2" fill="#009600"/>
<rect x="372" y="252" width="1" height="3" fill="#009600"/>
<rect x="371" y="253" width="2" height="1" fill="#009600"/>
<rect x="374" y="251" width="1" height="6" fill="#900000"/>
<rect x="373" y="253" width="3" height="2" fill="#900000"/>
<rect x="377" y="254" width="1" height="4" fill="#900000"/>
<rect x="376" y="255" width="2" height="1" fill="#900000"/>
<rect x="379" y="256" width="1" height="4" fill="#900000"/>
<rect x="378" y="257" width="3" height="2" fill="#900000"/>
<rect x="382" y="260" width="1" height="5" fill="#900000"/>
<rect x="381" y="261" width="2" height="3" fill="#900000"/>
<rect x="384" y="259" width="1" height="4" fill="#009600"/>
<rect x="383" y="260" width="3" height="2" fill="#009600"/>
<rect x="387" y="257" width="1" height="3" fill="#009600"/>
<rect x="386" y="258" width="2" height="1" fill="#009600"/>
<rect x="389" y="277" width="1" height="16" fill="#900000"/>
<rect x="388" y="278" width="3" height="15" fill="#900000"/>
<rect x="392" y="302" width="1" height="15" fill="#900000"/>
<rect x="391" y="303" width="2" height="14" fill="#900000"/>
<rect x="394" y="316" width="1" height="16" fill="#900000"/>
<rect x="393" y="317" width="3" height="15" fill="#900000"/>
<rect x="396" y="329" width="1" height="26" fill="#900000"/>
<rect x="395" y="347" width="3" height="8" fill="#900000"/>
<rect x="396" y="348" width="1" height="6" fill="#fff"/>
<rect x="399" y="318" width="1" height="1" fill="#009600"/>
<rect x="398" y="318" width="3" height="1" fill="#009600"/>
<rect x="401" y="297" width="1" height="15" fill="#009600"/>
<rect x="400" y="298" width="3" height="13" fill="#009600"/>
<rect x="401" y="299" width="1" height="11" fill="#fff"/>
<rect x="404" y="289" width="1" height="5" fill="#009600"/>
<rect x="403" y="290" width="2" height="2" fill="#009600"/>
<rect x="406" y="288" width="1" height="9" fill="#900000"/>
<rect x="405" y="292" width="3" height="4" fill="#900000"/>
<rect x="409" y="292" width="1" height="10" fill="#900000"/>
<rect x="408" y="298" width="2" height="4" fill="#900000"/>
<rect x="411" y="299" width="1" height="7" fill="#009600"/>
<rect x="410" y="299" width="3" height="6" fill="#009600"/>
<rect x="411" y="300" width="1" height="4" fill="#fff"/>
<rect x="414" y="292" width="1" height="6" fill="#009600"/>
<rect x="413" y="295" width="2" height="3" fill="#009600"/>
<rect x="416" y="296" width="1" height="8" fill="#900000"/>
<rect x="415" y="298" width="3" height="5" fill="#900000"/>
<rect x="419" y="304" width="1" height="26" fill="#900000"/>
<rect x="418" y="304" width="2" height="2" fill="#900000"/>
<rect x="421" y="299" width="1" height="5" fill="#009600"/>
<rect x="420" y="300" width="3" height="2" fill="#009600"/>
<rect x="424" y="296" width="1" height="5" fill="#009600"/>
<rect x="423" y="298" width="2" height="3" fill="#009600"/>
<rect x="426" y="294" width="1" height="2" fill="#009600"/>
<rect x="425" y="295" width="3" height="1" fill="#009600"/>
<rect x="429" y="292" width="1" height="5" fill="#900000"/>
<rect x="428" y="294" width="2" height="2" fill="#900000"/>
<rect x="431" y="293" width="1" height="4" fill="#900000"/>
<rect x="430" y="294" width="3" height="2" fill="#900000"/>
<rect x="434" y="290" width="1" height="6" fill="#009600"/>
<rect x="433" y="290" width="2" height="6" fill="#009600"/>
<rect x="436" y="286" width="1" height="5" fill="#009600"/>
<rect x="435" y="287" width="3" height="4" fill="#009600"/>
<rect x="439" y="286" width="1" height="4" fill="#009600"/>
<rect x="438" y="286" width="2" height="4" fill="#009600"/>
<rect x="441" y="278" width="1" height="9" fill="#009600"/>
<rect x="440" y="278" width="3" height="9" fill="#009600"/>
<rect x="441" y="279" width="1" height="7" fill="#fff"/>
<rect x="444" y="273" width="1" height="6" fill="#900000"/>
<rect x="443" y="274" width="2" height="5" fill="#900000"/>
<rect x="446" y="274" width="1" height="5" fill="#009600"/>
<rect x="445" y="274" width="3" height="5" fill="#009600"/>
<rect x="446" y="275" width="1" height="3" fill="#fff"/>
<rect x="449" y="269" width="1" height="5" fill="#009600"/>
<rect x="448" y="269" width="2" height="5" fill="#009600"/>
<rect x="451" y="262" width="1" height="9" fill="#009600"/>
<rect x="450" y="262" width="3" height="7" fill="#009600"/>
<rect x="451" y="263" width="1" height="5" fill="#fff"/>
<rect x="454" y="261" width="1" height="4" fill="#009600"/>
<rect x="453" y="261" width="2" height="4" fill="#009600"/>
<rect x="456" y="261" width="1" height="5" fill="#900000"/>
<rect x="455" y="261" width="3" height="5" fill="#900000"/>
<rect x="459" y="265" width="1" height="4" fill="#900000"/>
<rect x="458" y="265" width="2" height="3" fill="#900000"/>
<rect x="461" y="261" width="1" height="8" fill="#009600"/>
<rect x="460" y="261" width="3" height="7" fill="#009600"/>
<rect x="461" y="262" width="1" height="5" fill="#fff"/>
<rect x="464" y="254" width="1" height="7" fill="#009600"/>
<rect x="463" y="258" width="2" height="3" fill="#009600"/>
<rect x="466" y="254" width="1" height="7" fill="#900000"/>
<rect x="465" y="257" width="3" height="4" fill="#900000"/>
<rect x="469" y="259" width="1" height="4" fill="#009600"/>
<rect x="468" y="260" width="2" height="2" fill="#009600"/>
<rect x="471" y="254" width="1" height="17" fill="#009600"/>
<rect x="470" y="254" width="3" height="8" fill="#009600"/>
<rect x="471" y="255" width="1" height="6" fill="#fff"/>
<rect x="474" y="251" width="1" height="3" fill="#009600"/>
<rect x="473" y="251" width="2" height="3" fill="#009600"/>
<rect x="476" y="249" width="1" height="3" fill="#009600"/>
<rect x="475" y="249" width="3" height="3" fill="#009600"/>
<rect x="479" y="248" width="1" height="2" fill="#900000"/>
<rect x="478" y="249" width="2" height="1" fill="#900000"/>
<rect x="481" y="249" width="1" height="5" fill="#900000"/>
<rect x="480" y="249" width="3" height="5" fill="#900000"/>
<rect x="483" y="252" width="1" height="5" fill="#009600"/>
<rect x="482" y="253" width="3" height="2" fill="#009600"/>
<rect x="486" y="246" width="1" height="7" fill="#009600"/>
<rect x="485" y="249" width="3" height="4" fill="#009600"/>
<rect x="488" y="246" width="1" height="3" fill="#900000"/>
<rect x="487" y="247" width="3" height="1" fill="#900000"/>
<rect x="491" y="248" width="1" height="4" fill="#900000"/>
<rect x="490" y="249" width="2" height="2" fill="#900000"/>
<rect x="493" y="249" width="1" height="7" fill="#900000"/>
<rect x="492" y="249" width="3" height="7" fill="#900000"/>
<rect x="496" y="254" width="1" height="8" fill="#900000"/>
<rect x="495" y="255" width="2" height="7" fill="#900000"/>
<rect x="498" y="258" width="1" height="8" fill="#009600"/>
<rect x="497" y="261" width="3" height="2" fill="#009600"/>
<rect x="501" y="258" width="1" height="5" fill="#900000"/>
<rect x="500" y="259" width="2" height="2" fill="#900000"/>
<rect x="503" y="257" width="1" height="5" fill="#009600"/>
<rect x="502" y="258" width="3" height="3" fill="#009600"/>
<rect x="503" y="259" width="1" height="1" fill="#fff"/>
<rect x="506" y="256" width="1" height="8" fill="#900000"/>
<rect x="505" y="256" width="2" height="5" fill="#900000"/>
<rect x="508" y="251" width="1" height="12" fill="#009600"/>
<rect x="507" y="252" width="3" height="9" fill="#009600"/>
<rect x="508" y="253" width="1" height="7" fill="#fff"/>
<rect x="511" y="246" width="1" height="6" fill="#009600"/>
<rect x="510" y="246" width="2" height="6" fill="#009600"/>
<rect x="513" y="245" width="1" height="4" fill="#900000"/>
<rect x="512" y="246" width="3" height="2" fill="#900000"/>
<rect x="516" y="246" width="1" height="2" fill="#009600"/>
<rect x="515" y="246" width="2" height="2" fill="#009600"/>
<rect x="518" y="244" width="1" height="5" fill="#900000"/>
<rect x="517" y="246" width="3" height="2" fill="#900000"/>
<rect x="521" y="244" width="1" height="7" fill="#009600"/>
<rect x="520" y="245" width="2" height="3" fill="#009600"/>
<rect x="523" y="240" width="1" height="5" fill="#009600"/>
<rect x="522" y="240" width="3" height="5" fill="#009600"/>
<rect x="523" y="241" width="1" height="3" fill="#fff"/>
<rect x="526" y="239" width="1" height="2" fill="#009600"/>
<rect x="525" y="239" width="2" height="2" fill="#009600"/>
<rect x="528" y="238" width="1" height="4" fill="#900000"/>
<rect x="527" y="239" width="3" height="2" fill="#900000"/>
<rect x="531" y="238" width="1" height="4" fill="#009600"/>
<rect x="530" y="239" width="2" height="3" fill="#009600"/>
<rect x="533" y="237" width="1" height="3" fill="#009600"/>
<rect x="532" y="238" width="3" height="1" fill="#009600"/>
<rect x="536" y="234" width="1" height="5" fill="#009600"/>
<rect x="535" y="236" width="2" height="2" fill="#009600"/>
<rect x="538" y="234" width="1" height="3" fill="#009600"/>
<rect x="537" y="234" width="3" height="3" fill="#009600"/>
<rect x="541" y="230" width="1" height="6" fill="#900000"/>
<rect x="540" y="232" width="2" height="3" fill="#900000"/>
<rect x="543" y="232" width="1" height="3" fill="#009600"/>
<rect x="542" y="232" width="3" height="3" fill="#009600"/>
<rect x="546" y="226" width="1" height="6" fill="#009600"/>
<rect x="545" y="226" width="2" height="5" fill="#009600"/>
<rect x="548" y="221" width="1" height="6" fill="#009600"/>
<rect x="547" y="222" width="3" height="4" fill="#009600"/>
<rect x="548" y="223" width="1" height="2" fill="#fff"/>
<rect x="551" y="215" width="1" height="7" fill="#009600"/>
<rect x="550" y="216" width="2" height="5" fill="#009600"/>
<rect x="553" y="209" width="1" height="5" fill="#009600"/>
<rect x="552" y="210" width="3" height="4" fill="#009600"/>
<rect x="553" y="211" width="1" height="2" fill="#fff"/>
<rect x="556" y="202" width="1" height="6" fill="#009600"/>
<rect x="555" y="205" width="2" height="3" fill="#009600"/>
<rect x="558" y="198" width="1" height="11" fill="#009600"/>
<rect x="557" y="199" width="3" height="2" fill="#009600"/>
<polyline points="0.0,280.6 3.1,281.5 5.0,280.0 10.0,275.6 15.0,271.2 20.0,266.9 25.0,262.5 26.9,261.2 28.8,262.2 35.0,262.5 40.0,265.0 45.0,266.9 48.8,268.5 57.5,268.8 62.5,270.0 65.0,269.8 68.1,267.5 72.5,267.2 76.2,266.2 80.0,266.2 89.1,266.4 93.8,265.2 96.9,265.6 100.0,267.2 100.0,267.2 109.4,268.4 117.2,267.2 125.0,267.2 131.2,268.4 139.1,267.2 143.0,268.4 148.4,271.9 157.8,274.7 164.1,273.9 171.9,275.8 179.7,279.4 187.5,279.4 192.2,279.7 195.3,277.3 200.0,275.0 204.7,272.5 210.2,271.2 215.6,272.8 223.4,274.4 231.2,274.1 235.9,273.3 240.6,275.2 246.9,274.1 254.7,273.1 262.5,273.1 270.3,273.3 276.6,274.1 282.8,277.2 287.5,277.5 293.8,275.2 300.0,274.4 303.9,272.5 310.9,272.2 315.6,268.3 323.4,264.7 331.2,261.2 339.1,257.3 346.9,251.1 353.1,250.3 359.4,250.3 370.3,250.0 380.0,250.0 385.6,250.0 386.2,251.5 387.5,251.5 388.1,248.1 389.4,240.6 392.5,233.8 393.8,227.5 395.6,217.5 396.9,216.0 399.0,215.0 401.2,216.9 404.4,219.4 406.2,222.5 409.4,224.4 412.5,228.1 415.6,231.2 420.0,238.1 423.1,245.0 425.0,248.8 428.1,255.0 430.6,260.0 432.5,264.4 435.6,272.2 438.0,274.5 441.1,271.4 444.2,269.8 445.8,273.0 448.1,271.4 451.2,268.3 455.2,262.8 460.6,256.6 460.0,255.8 463.1,251.1 467.8,248.4 473.3,244.1 478.8,241.2 485.0,240.9 491.2,241.2 496.7,244.4 502.2,245.6 508.4,245.6 512.3,244.1 519.4,243.3 524.1,239.7 530.6,235.9 536.9,232.3 543.1,226.9 547.8,222.2 552.5,215.2 556.4,208.9 558.8,205.0" fill="none" stroke="#0000ff" stroke-width="1" />
<polyline points="0.0,306.2 6.2,308.6 14.1,311.4 21.9,312.2 27.3,309.8 30.0,305.0 33.8,301.2 36.2,298.8 41.2,295.0 47.5,290.0 50.0,289.8 57.5,289.8 60.0,288.5 63.8,288.8 66.2,289.8 75.0,290.2 80.0,290.2 85.9,289.8 92.2,288.0 96.1,285.2 98.4,282.0 100.0,281.7 100.0,281.7 106.2,279.7 112.5,278.1 117.2,280.5 123.4,285.2 131.2,286.7 137.5,290.3 146.9,290.9 153.1,291.9 157.8,295.3 162.5,300.0 168.8,303.1 178.1,303.1 184.4,302.0 192.2,302.8 200.0,304.4 204.7,304.1 209.4,302.2 215.6,296.2 223.4,290.8 231.2,288.1 237.5,285.3 241.4,284.2 246.9,286.9 253.1,290.0 259.4,293.1 264.1,295.9 270.3,296.2 275.0,297.0 282.8,295.5 289.1,295.2 293.8,295.9 300.0,296.2 307.8,291.7 315.6,288.1 323.4,287.0 332.5,284.8 342.5,284.4 347.5,281.2 352.5,278.1 357.5,273.8 362.5,270.6 368.8,267.5 375.0,265.0 380.0,263.5 385.0,263.1 386.4,262.0 388.0,264.4 389.5,273.8 391.9,286.2 393.4,295.6 394.2,300.0 395.0,307.8 396.6,321.9 398.9,328.1 402.8,332.0 407.5,335.9 413.8,339.8 418.4,342.2 421.6,342.5 426.2,340.3 430.9,337.5 434.1,335.2 437.2,331.7 441.1,332.0 443.4,328.1 445.0,321.9 446.2,314.8 449.7,312.2 452.8,314.8 455.9,315.6 459.8,314.4 463.0,314.8 466.1,310.9 470.0,306.2 491.2,273.8 496.7,269.8 503.8,267.5 510.0,264.4 517.8,262.5 524.1,263.6 531.9,264.7 539.7,266.7 547.5,263.6 553.8,261.7 557.7,260.2" fill="none" stroke="#0000ff" stroke-width="1" />
<polyline points="2.3,293.4 9.4,291.4 15.6,289.1 21.9,287.5 28.1,285.2 34.4,282.0 40.6,280.2 46.9,278.9 56.2,278.6 62.5,279.2 68.8,278.9 76.6,278.4 84.4,277.8 92.2,276.6 100.0,275.0 110.9,273.4 117.2,274.2 123.4,275.8 129.7,276.9 135.9,278.1 142.2,279.7 148.4,280.9 153.9,282.5 159.4,284.7 165.6,288.3 171.9,290.3 178.1,290.9 184.4,291.4 190.6,291.4 196.9,290.3 200.0,289.7 206.2,288.4 212.5,286.1 218.8,283.8 225.0,282.5 231.2,281.4 237.5,280.6 243.8,281.4 250.0,281.9 256.2,282.2 262.5,283.8 268.8,285.3 275.0,286.1 281.2,286.4 287.5,286.4 293.8,285.8 300.0,285.6 302.3,283.9 309.4,281.7 315.6,279.7 321.9,277.0 328.1,274.5 334.4,271.9 340.6,269.8 346.9,267.5 353.1,264.4 359.4,261.2 365.6,258.9 371.9,258.1 378.1,257.8 384.4,257.8 385.6,257.3 387.5,258.1 392.7,261.2 395.8,267.5 400.5,273.8 406.7,279.2 413.0,284.7 419.2,290.2 424.7,294.1 430.2,298.8 434.1,301.9 436.4,302.2 441.9,300.3 447.3,294.1 453.6,289.4 459.1,285.5 465.3,280.8 470.0,276.9 472.5,274.5 478.8,268.3 485.0,263.6 491.2,258.9 497.5,257.3 503.8,256.6 510.0,255.8 516.2,253.4 522.5,252.3 528.8,250.3 535.0,249.2 541.2,246.4 547.5,242.2 553.8,237.0 559.2,232.8" fill="none" stroke="#ff0000" stroke-width="1" stroke-dasharray="3 3"/>
<rect x="1" y="406" width="1" height="21" fill="#009600"/>
<rect x="4" y="413" width="1" height="14" fill="#009600"/>
<rect x="6" y="410" width="1" height="17" fill="#009600"/>
<rect x="9" y="411" width="1" height="16" fill="#009600"/>
<rect x="11" y="413" width="1" height="14" fill="#009600"/>
<rect x="14" y="413" width="1" height="14" fill="#009600"/>
<rect x="16" y="413" width="1" height="14" fill="#009600"/>
<rect x="19" y="415" width="1" height="12" fill="#009600"/>
<rect x="21" y="413" width="1" height="14" fill="#009600"/>
<rect x="24" y="415" width="1" height="12" fill="#009600"/>
<rect x="26" y="417" width="1" height="10" fill="#009600"/>
<rect x="29" y="415" width="1" height="12" fill="#009600"/>
<rect x="31" y="415" width="1" height="12" fill="#009600"/>
<rect x="34" y="417" width="1" height="10" fill="#009600"/>
<rect x="36" y="419" width="1" height="8" fill="#009600"/>
<rect x="39" y="415" width="1" height="12" fill="#009600"/>
<rect x="41" y="417" width="1" height="10" fill="#009600"/>
<rect x="43" y="421" width="1" height="6" fill="#009600"/>
<rect x="46" y="420" width="1" height="7" fill="#009600"/>
<rect x="48" y="419" width="1" height="8" fill="#009600"/>
<rect x="51" y="418" width="1" height="9" fill="#009600"/>
<rect x="53" y="416" width="1" height="11" fill="#009600"/>
<rect x="56" y="418" width="1" height="9" fill="#009600"/>
<rect x="58" y="408" width="1" height="19" fill="#009600"/>
<rect x="61" y="419" width="1" height="8" fill="#009600"/>
<rect x="63" y="417" width="1" height="10" fill="#009600"/>
<rect x="66" y="406" width="1" height="21" fill="#009600"/>
<rect x="68" y="407" width="1" height="20" fill="#009600"/>
<rect x="71" y="407" width="1" height="20" fill="#009600"/>
<rect x="73" y="412" width="1" height="15" fill="#009600"/>
<rect x="76" y="406" width="1" height="21" fill="#009600"/>
<rect x="78" y="412" width="1" height="15" fill="#009600"/>
<rect x="81" y="403" width="1" height="24" fill="#009600"/>
<rect x="83" y="415" width="1" height="12" fill="#009600"/>
<rect x="86" y="417" width="1" height="10" fill="#009600"/>
<rect x="88" y="413" width="1" height="14" fill="#009600"/>
<rect x="91" y="413" width="1" height="14" fill="#009600"/>
<rect x="93" y="413" width="1" height="14" fill="#009600"/>
<rect x="96" y="418" width="1" height="9" fill="#009600"/>
<rect x="98" y="413" width="1" height="14" fill="#009600"/>
<rect x="101" y="413" width="1" height="14" fill="#009600"/>
<rect x="103" y="418" width="1" height="9" fill="#009600"/>
<rect x="106" y="414" width="1" height="13" fill="#009600"/>
<rect x="108" y="414" width="1" height="13" fill="#009600"/>
<rect x="111" y="415" width="1" height="12" fill="#009600"/>
<rect x="113" y="412" width="1" height="15" fill="#009600"/>
<rect x="116" y="416" width="1" height="11" fill="#009600"/>
<rect x="118" y="415" width="1" height="12" fill="#009600"/>
<rect x="121" y="417" width="1" height="10" fill="#009600"/>
<rect x="123" y="420" width="1" height="7" fill="#009600"/>
<rect x="126" y="418" width="1" height="9" fill="#009600"/>
<rect x="128" y="418" width="1" height="9" fill="#009600"/>
<rect x="130" y="418" width="1" height="9" fill="#009600"/>
<rect x="133" y="416" width="1" height="11" fill="#009600"/>
<rect x="135" y="415" width="1" height="12" fill="#009600"/>
<rect x="138" y="422" width="1" height="5" fill="#009600"/>
<rect x="140" y="417" width="1" height="10" fill="#009600"/>
<rect x="143" y="418" width="1" height="9" fill="#009600"/>
<rect x="145" y="417" width="1" height="10" fill="#009600"/>
<rect x="148" y="411" width="1" height="16" fill="#009600"/>
<rect x="150" y="417" width="1" height="10" fill="#009600"/>
<rect x="153" y="416" width="1" height="11" fill="#009600"/>
<rect x="155" y="416" width="1" height="11" fill="#009600"/>
<rect x="158" y="413" width="1" height="14" fill="#009600"/>
<rect x="160" y="415" width="1" height="12" fill="#009600"/>
<rect x="163" y="419" width="1" height="8" fill="#009600"/>
<rect x="165" y="413" width="1" height="14" fill="#009600"/>
<rect x="168" y="419" width="1" height="8" fill="#009600"/>
<rect x="170" y="419" width="1" height="8" fill="#009600"/>
<rect x="173" y="420" width="1" height="7" fill="#009600"/>
<rect x="175" y="417" width="1" height="10" fill="#009600"/>
<rect x="178" y="421" width="1" height="6" fill="#009600"/>
<rect x="180" y="420" width="1" height="7" fill="#009600"/>
<rect x="183" y="419" width="1" height="8" fill="#009600"/>
<rect x="185" y="420" width="1" height="7" fill="#009600"/>
<rect x="188" y="418" width="1" height="9" fill="#009600"/>
<rect x="190" y="417" width="1" height="10" fill="#009600"/>
<rect x="193" y="408" width="1" height="19" fill="#009600"/>
<rect x="195" y="415" width="1" height="12" fill="#009600"/>
<rect x="198" y="415" width="1" height="12" fill="#009600"/>
<rect x="200" y="417" width="1" height="10" fill="#009600"/>
<rect x="203" y="417" width="1" height="10" fill="#009600"/>
<rect x="205" y="418" width="1" height="9" fill="#009600"/>
<rect x="208" y="420" width="1" height="7" fill="#009600"/>
<rect x="210" y="420" width="1" height="7" fill="#009600"/>
<rect x="213" y="421" width="1" height="6" fill="#009600"/>
<rect x="215" y="420" width="1" height="7" fill="#009600"/>
<rect x="217" y="413" width="1" height="14" fill="#009600"/>
<rect x="220" y="419" width="1" height="8" fill="#009600"/>
<rect x="222" y="420" width="1" height="7" fill="#009600"/>
<rect x="225" y="417" width="1" height="10" fill="#009600"/>
<rect x="227" y="411" width="1" height="16" fill="#009600"/>
<rect x="230" y="417" width="1" height="10" fill="#009600"/>
<rect x="232" y="415" width="1" height="12" fill="#009600"/>
<rect x="235" y="419" width="1" height="8" fill="#009600"/>
<rect x="237" y="420" width="1" height="7" fill="#009600"/>
<rect x="240" y="421" width="1" height="6" fill="#009600"/>
<rect x="242" y="418" width="1" height="9" fill="#009600"/>
<rect x="245" y="418" width="1" height="9" fill="#009600"/>
<rect x="247" y="418" width="1" height="9" fill="#009600"/>
<rect x="250" y="421" width="1" height="6" fill="#009600"/>
<rect x="252" y="423" width="1" height="4" fill="#009600"/>
<rect x="255" y="418" width="1" height="9" fill="#009600"/>
<rect x="257" y="419" width="1" height="8" fill="#009600"/>
<rect x="260" y="422" width="1" height="5" fill="#009600"/>
<rect x="262" y="420" width="1" height="7" fill="#009600"/>
<rect x="265" y="420" width="1" height="7" fill="#009600"/>
<rect x="267" y="421" width="1" height="6" fill="#009600"/>
<rect x="270" y="421" width="1" height="6" fill="#009600"/>
<rect x="272" y="421" width="1" height="6" fill="#009600"/>
<rect x="275" y="420" width="1" height="7" fill="#009600"/>
<rect x="277" y="417" width="1" height="10" fill="#009600"/>
<rect x="280" y="417" width="1" height="10" fill="#009600"/>
<rect x="282" y="417" width="1" height="10" fill="#009600"/>
<rect x="285" y="415" width="1" height="12" fill="#009600"/>
<rect x="287" y="416" width="1" height="11" fill="#009600"/>
<rect x="290" y="416" width="1" height="11" fill="#009600"/>
<rect x="292" y="416" width="1" height="11" fill="#009600"/>
<rect x="295" y="411" width="1" height="16" fill="#009600"/>
<rect x="297" y="415" width="1" height="12" fill="#009600"/>
<rect x="300" y="418" width="1" height="9" fill="#009600"/>
<rect x="302" y="418" width="1" height="9" fill="#009600"/>
<rect x="304" y="414" width="1" height="13" fill="#009600"/>
<rect x="307" y="411" width="1" height="16" fill="#009600"/>
<rect x="309" y="414" width="1" height="13" fill="#009600"/>
<rect x="312" y="411" width="1" height="16" fill="#009600"/>
<rect x="314" y="411" width="1" height="16" fill="#009600"/>
<rect x="317" y="413" width="1" height="14" fill="#009600"/>
<rect x="319" y="409" width="1" height="18" fill="#009600"/>
<rect x="322" y="408" width="1" height="19" fill="#009600"/>
<rect x="324" y="412" width="1" height="15" fill="#009600"/>
<rect x="327" y="408" width="1" height="19" fill="#009600"/>
<rect x="329" y="410" width="1" height="17" fill="#009600"/>
<rect x="332" y="409" width="1" height="18" fill="#009600"/>
<rect x="334" y="405" width="1" height="22" fill="#009600"/>
<rect x="337" y="411" width="1" height="16" fill="#009600"/>
<rect x="339" y="404" width="1" height="23" fill="#009600"/>
<rect x="342" y="407" width="1" height="20" fill="#009600"/>
<rect x="344" y="408" width="1" height="19" fill="#009600"/>
<rect x="347" y="408" width="1" height="19" fill="#009600"/>
<rect x="349" y="408" width="1" height="19" fill="#009600"/>
<rect x="352" y="404" width="1" height="23" fill="#009600"/>
<rect x="354" y="405" width="1" height="22" fill="#009600"/>
<rect x="357" y="409" width="1" height="18" fill="#009600"/>
<rect x="359" y="409" width="1" height="18" fill="#009600"/>
<rect x="362" y="408" width="1" height="19" fill="#009600"/>
<rect x="364" y="409" width="1" height="18" fill="#009600"/>
<rect x="367" y="411" width="1" height="16" fill="#009600"/>
<rect x="369" y="409" width="1" height="18" fill="#009600"/>
<rect x="372" y="408" width="1" height="19" fill="#009600"/>
<rect x="374" y="411" width="1" height="16" fill="#009600"/>
<rect x="377" y="416" width="1" height="11" fill="#009600"/>
<rect x="379" y="414" width="1" height="13" fill="#009600"/>
<rect x="382" y="410" width="1" height="17" fill="#009600"/>
<rect x="384" y="416" width="1" height="11" fill="#009600"/>
<rect x="387" y="412" width="1" height="15" fill="#009600"/>
<rect x="389" y="384" width="1" height="43" fill="#009600"/>
<rect x="392" y="380" width="1" height="47" fill="#009600"/>
<rect x="394" y="402" width="1" height="25" fill="#009600"/>
<rect x="396" y="389" width="1" height="38" fill="#009600"/>
<rect x="399" y="423" width="1" height="4" fill="#009600"/>
<rect x="401" y="385" width="1" height="42" fill="#009600"/>
<rect x="404" y="404" width="1" height="23" fill="#009600"/>
<rect x="406" y="403" width="1" height="24" fill="#009600"/>
<rect x="409" y="410" width="1" height="17" fill="#009600"/>
<rect x="411" y="412" width="1" height="15" fill="#009600"/>
<rect x="414" y="403" width="1" height="24" fill="#009600"/>
<rect x="416" y="409" width="1" height="18" fill="#009600"/>
<rect x="419" y="394" width="1" height="33" fill="#009600"/>
<rect x="421" y="409" width="1" height="18" fill="#009600"/>
<rect x="424" y="411" width="1" height="16" fill="#009600"/>
<rect x="426" y="409" width="1" height="18" fill="#009600"/>
<rect x="429" y="415" width="1" height="12" fill="#009600"/>
<rect x="431" y="416" width="1" height="11" fill="#009600"/>
<rect x="434" y="416" width="1" height="11" fill="#009600"/>
<rect x="436" y="411" width="1" height="16" fill="#009600"/>
<rect x="439" y="412" width="1" height="15" fill="#009600"/>
<rect x="441" y="410" width="1" height="17" fill="#009600"/>
<rect x="444" y="412" width="1" height="15" fill="#009600"/>
<rect x="446" y="408" width="1" height="19" fill="#009600"/>
<rect x="449" y="407" width="1" height="20" fill="#009600"/>
<rect x="451" y="406" width="1" height="21" fill="#009600"/>
<rect x="454" y="402" width="1" height="25" fill="#009600"/>
<rect x="456" y="408" width="1" height="19" fill="#009600"/>
<rect x="459" y="409" width="1" height="18" fill="#009600"/>
<rect x="461" y="409" width="1" height="18" fill="#009600"/>
<rect x="464" y="404" width="1" height="23" fill="#009600"/>
<rect x="466" y="400" width="1" height="27" fill="#009600"/>
<rect x="469" y="413" width="1" height="14" fill="#009600"/>
<rect x="471" y="405" width="1" height="22" fill="#009600"/>
<rect x="474" y="402" width="1" height="25" fill="#009600"/>
<rect x="476" y="406" width="1" height="21" fill="#009600"/>
<rect x="479" y="406" width="1" height="21" fill="#009600"/>
<rect x="481" y="406" width="1" height="21" fill="#009600"/>
<rect x="483" y="406" width="1" height="21" fill="#009600"/>
<rect x="486" y="403" width="1" height="24" fill="#009600"/>
<rect x="488" y="406" width="1" height="21" fill="#009600"/>
<rect x="491" y="410" width="1" height="17" fill="#009600"/>
<rect x="493" y="406" width="1" height="21" fill="#009600"/>
<rect x="496" y="411" width="1" height="16" fill="#009600"/>
<rect x="498" y="412" width="1" height="15" fill="#009600"/>
<rect x="501" y="416" width="1" height="11" fill="#009600"/>
<rect x="503" y="409" width="1" height="18" fill="#009600"/>
<rect x="506" y="399" width="1" height="28" fill="#009600"/>
<rect x="508" y="410" width="1" height="17" fill="#009600"/>
<rect x="511" y="410" width="1" height="17" fill="#009600"/>
<rect x="513" y="410" width="1" height="17" fill="#009600"/>
<rect x="516" y="413" width="1" height="14" fill="#009600"/>
<rect x="518" y="410" width="1" height="17" fill="#009600"/>
<rect x="521" y="411" width="1" height="16" fill="#009600"/>
<rect x="523" y="408" width="1" height="19" fill="#009600"/>
<rect x="526" y="411" width="1" height="16" fill="#009600"/>
<rect x="528" y="415" width="1" height="12" fill="#009600"/>
<rect x="531" y="412" width="1" height="15" fill="#009600"/>
<rect x="533" y="414" width="1" height="13" fill="#009600"/>
<rect x="536" y="411" width="1" height="16" fill="#009600"/>
<rect x="538" y="408" width="1" height="19" fill="#009600"/>
<rect x="541" y="395" width="1" height="32" fill="#009600"/>
<rect x="543" y="408" width="1" height="19" fill="#009600"/>
<rect x="546" y="397" width="1" height="30" fill="#009600"/>
<rect x="548" y="399" width="1" height="28" fill="#009600"/>
<rect x="551" y="392" width="1" height="35" fill="#009600"/>
<rect x="553" y="402" width="1" height="25" fill="#009600"/>
<rect x="556" y="397" width="1" height="30" fill="#009600"/>
<rect x="558" y="413" width="1" height="14" fill="#009600"/>
<polyline points="0.0,413.4 14.8,413.4 15.6,412.2 22.7,412.2 23.4,413.4 30.5,413.4 31.2,414.7 50.0,414.7 50.8,415.8 66.4,415.8 67.2,414.7 75.0,414.7 75.8,413.4 89.8,413.4 90.6,412.2 100.0,411.1 100.0,412.2 107.0,411.1 108.6,412.2 110.2,411.1 114.8,411.1 115.6,412.2 122.7,412.2 123.4,413.1 127.3,413.4 128.1,414.7 136.7,414.7 137.5,415.5 161.7,415.5 162.5,416.6 200.0,416.2 200.0,416.6 209.4,416.2 210.2,417.3 225.0,417.3 225.8,416.2 241.4,416.2 242.2,417.3 266.4,417.3 267.2,418.4 295.3,418.4 296.1,417.3 300.0,417.3 305.5,417.3 306.2,416.2 312.5,416.2 313.3,415.3 318.0,415.3 319.5,414.2 321.9,413.1 328.1,413.1 328.9,412.2 333.6,412.2 335.2,411.1 338.3,410.3 345.3,410.3 346.9,409.2 350.8,409.2 352.3,408.3 357.8,408.3 358.6,407.2 381.2,407.2 382.0,408.3 387.5,408.3 389.1,407.2 391.4,406.4 394.5,406.1 395.3,405.3 400.0,404.4 400.0,405.3 417.2,404.4 418.8,403.3 435.9,403.3 439.1,405.3 443.0,407.2 446.1,408.3 447.7,407.2 450.8,407.2 452.3,408.3 464.1,408.3 464.8,407.2 467.2,407.2 468.8,408.3 474.2,408.3 475.8,407.2 481.2,407.2 482.8,406.4 486.7,406.4 487.5,405.3 489.8,405.3 490.0,405.3 499.4,405.3 500.2,406.4 514.2,406.4 515.0,407.2 524.4,407.2 525.2,408.3 532.2,408.3 533.8,409.2 539.2,409.2 540.8,408.3 543.1,408.3 543.9,409.2 546.2,408.0 548.6,407.2 550.2,406.4 557.2,406.4" fill="none" stroke="#ff0000" stroke-width="1" />
</svg></body></html>
